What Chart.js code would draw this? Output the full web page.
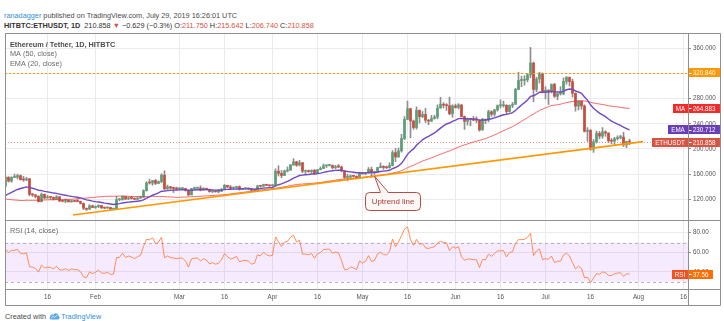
<!DOCTYPE html>
<html>
<head>
<meta charset="utf-8">
<script src="https://cdn.jsdelivr.net/npm/chart.js@4.4.1/dist/chart.umd.min.js"></script>
<style>
html, body { margin: 0; padding: 0; background: #fff; }
body { width: 724px; height: 321px; position: relative; overflow: hidden; font-family: "Liberation Sans", Arial, sans-serif; color: #4a4a4a; }
.t { position: absolute; white-space: nowrap; line-height: 1; }
#h1 { left: 4px; top: 12px; font-size: 7.3px; }
#h2 { left: 4px; top: 21.6px; font-size: 7.3px; color: #333; }
#ft { left: 5px; top: 312.3px; font-size: 7.3px; }
.red { color: #d75442; }
.blue { color: #2f8fdd; }
#cv { position: absolute; left: 5px; top: 33px; }
</style>
</head>
<body>
<div class="t" id="h1"><span class="blue">ranadagger</span> published on TradingView.com, July 29, 2019 16:26:01 UTC</div>
<div class="t" id="h2"><b>HITBTC:ETHUSDT, 1D</b>&nbsp; 210.858 <span class="red">▼</span> −0.629 (−0.3%) O:<span class="red">211.750</span> H:<span class="red">215.642</span> L:<span class="red">206.740</span> C:<span class="red">210.858</span></div>
<canvas id="cv" width="716" height="273"></canvas>
<div class="t" id="ft">Created with <svg width="11" height="8" viewBox="0 0 22 16" style="vertical-align:-1px;margin:0 1px 0 1px"><path d="M5 15 C1 15 0 11 2.5 9.5 C2 5 7 4 8.5 6 C10 1 18 1 18.5 7 C22 7.5 22 15 18 15 Z" fill="#5aa9e6"/><path d="M4.5 12 L8.5 8.5 L11.5 11 L17 5.5" stroke="#fff" stroke-width="1.6" fill="none"/></svg><span class="blue">TradingView</span></div>

<script>
// closes before the first visible bar (13 Nov 2018 - 1 Jan 2019), only used to warm up MA / EMA / RSI
const priorCloses = [206.5, 181.4, 180.8, 174.4, 174.8, 177.2, 149.1, 130.3, 136.7, 126.4, 123.3, 113.2, 116.7, 109.3, 110.1, 122.4, 118.3, 113.2,
  118.8, 116.2, 108.1, 110.3, 104.3, 91.0, 93.1, 91.6, 92.9, 90.0, 88.2, 90.1, 86.0, 83.8, 84.2, 85.3, 101.2, 100.7, 100.4, 116.1, 109.9, 117.1, 128.8, 139.8, 129.1, 131.0, 116.3, 137.7, 134.0, 140.0, 133.4,
  140.8];

// daily bars, 2 Jan - 29 Jul 2019
const closes = [
  155.0, 149.0, 154.7, 155.1, 157.6, 151.1, 150.8, 152.5, 127.9, 127.1, 124.6, 116.3, 127.9, 122.2, 123.4, 123.0, 120.0, 124.0, 117.5, 117.0, 118.7, 116.0, 117.7, 116.6, 116.5, 113.6, 105.8, 104.2, 109.6, 107.0,
  108.3, 110.2, 106.5, 106.1, 106.9, 104.4, 104.6, 119.4, 119.6, 124.5, 120.6, 122.3, 121.5, 120.1, 121.9, 123.3, 133.8, 146.1, 145.9, 149.8, 145.3, 148.2, 158.3, 136.6, 139.9, 137.7, 137.3, 136.5,
  137.0, 137.3, 134.1, 127.1, 136.9, 137.6, 138.0, 134.7, 137.4, 136.0, 132.2, 133.5, 131.9, 132.7, 135.8, 142.2, 139.6, 137.6, 138.7, 140.2, 135.9, 136.8, 137.2, 136.5, 134.4, 135.0, 141.3, 140.7, 143.7, 142.3, 141.5,
  142.0, 164.7, 161.2, 157.8, 165.0, 166.4, 174.5, 179.6, 174.3, 178.2, 164.7, 164.9, 164.1, 166.0, 161.2, 167.1, 168.9, 173.3, 173.6, 173.7, 170.4, 171.9, 171.3, 164.9, 154.9, 155.2, 157.4, 156.5, 154.4, 162.2,
  160.5, 161.8, 167.6, 162.4, 163.3, 170.4, 172.4, 170.5, 170.2, 173.7, 194.2, 187.3, 197.0, 216.5, 247.1, 264.0, 244.4, 234.0, 261.4, 251.4, 254.8, 245.8, 244.3, 248.4, 250.6, 265.1, 271.1, 269.5, 268.8, 255.9, 268.4,
  265.9, 270.0, 251.5, 243.9, 247.0, 246.9, 245.7, 245.6, 230.3, 246.7, 245.8, 259.2, 255.2, 262.0, 268.8, 268.8, 269.4, 259.5, 269.4, 271.1, 294.7, 308.8, 309.0, 310.0, 317.9, 336.6, 294.6, 311.3, 319.3, 290.3,
  293.6, 291.6, 302.5, 283.7, 287.9, 287.9, 307.4, 313.8, 307.0, 288.5, 268.0, 275.8, 268.3, 228.0, 229.5, 199.6, 211.2, 224.8, 220.5, 227.1, 225.1, 212.9, 212.4, 216.3, 218.2, 218.8, 206.4, 211.75, 210.858
];
const highs = [
  156.9, 155.9, 156.0, 160.1, 159.9, 158.8, 156.5, 154.9, 153.4, 129.0, 127.5, 126.0, 130.0, 128.5, 126.3, 124.3, 123.7, 126.0, 124.6, 118.5, 120.7, 119.0, 118.5, 118.3, 120.0, 117.0, 114.0, 106.0, 111.4, 110.8,
  109.6, 111.3, 110.4, 107.0, 108.0, 107.6, 105.0, 124.6, 121.0, 125.2, 124.5, 123.8, 124.8, 122.4, 124.0, 125.0, 135.2, 148.0, 152.0, 150.0, 151.6, 149.4, 160.7, 165.3, 142.6, 140.5, 139.2, 139.2,
  138.7, 138.0, 137.4, 134.5, 137.3, 139.6, 139.2, 141.5, 138.5, 137.5, 136.2, 134.6, 133.8, 135.5, 137.3, 143.5, 142.3, 142.0, 139.8, 140.7, 141.3, 137.5, 138.3, 137.6, 137.0, 135.7, 141.9, 141.4, 144.1, 143.9, 142.5,
  143.6, 168.4, 173.3, 165.8, 166.5, 171.6, 175.6, 184.6, 180.5, 182.0, 178.6, 166.1, 166.5, 166.9, 167.6, 167.6, 171.5, 176.2, 174.5, 175.6, 174.6, 174.0, 175.5, 173.0, 165.5, 159.9, 158.5, 158.2, 157.5, 162.9,
  162.8, 162.9, 170.5, 171.3, 164.1, 170.9, 177.8, 173.4, 172.8, 178.1, 197.5, 200.8, 201.7, 223.4, 251.5, 276.1, 264.9, 246.0, 267.0, 261.9, 259.4, 264.6, 246.8, 253.4, 253.7, 270.2, 282.2, 273.7, 272.0, 282.3, 270.4,
  271.3, 272.0, 270.6, 252.4, 249.0, 248.0, 251.7, 251.0, 246.2, 248.8, 247.4, 261.6, 260.8, 263.0, 270.0, 278.0, 276.0, 270.5, 270.0, 274.0, 296.5, 322.0, 315.6, 316.5, 320.0, 361.4, 338.0, 314.0, 322.0, 321.0,
  299.0, 293.8, 303.5, 304.3, 290.0, 299.0, 313.0, 315.0, 314.5, 311.0, 289.0, 277.0, 276.0, 270.0, 234.0, 231.0, 215.0, 228.7, 228.0, 234.0, 229.0, 226.0, 216.5, 218.5, 221.0, 222.0, 226.5, 212.4, 215.642
];
const lows = [
  140.7, 147.3, 147.0, 154.3, 152.4, 150.6, 148.5, 149.6, 125.4, 124.5, 122.2, 115.7, 115.8, 120.8, 121.6, 119.6, 119.0, 119.8, 116.0, 115.7, 114.5, 115.6, 115.2, 115.8, 116.0, 112.5, 103.5, 102.2, 104.0, 106.6,
  105.6, 106.8, 105.3, 104.7, 105.5, 103.4, 103.4, 104.0, 117.6, 118.4, 119.4, 119.7, 120.3, 119.3, 119.6, 121.4, 122.9, 133.0, 144.0, 142.2, 143.4, 144.6, 146.4, 135.4, 135.8, 136.0, 130.7, 135.6,
  135.8, 135.4, 133.0, 125.8, 126.9, 135.4, 136.6, 133.3, 134.6, 134.6, 131.2, 130.4, 131.4, 130.2, 132.5, 135.5, 138.4, 136.4, 137.4, 137.9, 134.6, 135.7, 136.5, 135.6, 131.9, 133.3, 134.9, 139.4, 140.6, 141.7, 140.6,
  140.9, 141.2, 156.9, 154.3, 157.7, 163.4, 165.8, 174.1, 172.3, 172.9, 162.5, 160.8, 162.9, 162.1, 159.6, 161.0, 166.6, 168.7, 170.5, 172.8, 168.2, 168.4, 170.2, 163.6, 153.0, 149.2, 154.0, 155.1, 152.5, 154.0,
  159.8, 159.3, 161.6, 154.6, 159.7, 162.0, 170.0, 167.5, 168.8, 169.4, 173.0, 180.0, 186.7, 194.9, 214.9, 246.7, 217.7, 231.2, 231.5, 241.4, 249.8, 242.0, 238.4, 243.5, 247.4, 247.8, 264.9, 265.2, 261.2, 254.3, 250.4,
  265.0, 263.6, 251.0, 231.0, 238.0, 236.7, 244.8, 241.8, 228.1, 229.7, 240.2, 243.0, 251.7, 252.0, 260.0, 265.0, 266.5, 256.0, 258.6, 265.6, 270.6, 294.0, 298.9, 301.5, 306.6, 313.2, 275.0, 291.0, 304.8, 289.3,
  279.5, 270.6, 288.9, 281.9, 278.0, 285.6, 286.0, 303.0, 300.0, 282.5, 260.0, 262.0, 263.0, 227.0, 212.0, 198.0, 194.6, 209.3, 216.0, 217.0, 220.0, 210.0, 208.0, 206.0, 214.0, 216.0, 204.0, 202.0, 206.74
];
const firstDay = 1; // day number counted from 1 Jan 2019

const tickDays = [15, 31, 59, 74, 90, 105, 120, 135, 151, 166, 181, 196, 212, 227];
const tickNames = ['16', 'Feb', 'Mar', '16', 'Apr', '16', 'May', '16', 'Jun', '16', 'Jul', '16', 'Aug', '16'];
const priceTicks = [120, 160, 200, 240, 280, 320, 360];
const rsiTicks = [40, 60, 80];

// drawings on the chart
const levelPrice = 320.84;
const trendDays = [23.5, 213.5];
const trendPrices = [95.0, 211.6];
const calloutDay = 124;
const calloutBoxDay = 129.9;
const calloutBoxPrice = 117.5;
const rsiUpper = 70, rsiLower = 30;

// values shown in the axis badges
const maLast = 264.883, emaLast = 230.712, rsiLast = 37.56;

const FONT = '"Liberation Sans", Arial, sans-serif';
Chart.defaults.font.family = FONT;

const days = closes.map((c, i) => firstDay + i);
const opens = closes.map((c, i) => i ? closes[i - 1] : priorCloses[priorCloses.length - 1]);
const lastClose = closes[closes.length - 1];

const all = priorCloses.concat(closes);
const off = priorCloses.length;

function sma(n) {
    return closes.map((c, i) => {
        let s = 0;
        for (let k = 0; k < n; k++) s += all[off + i - k];
        return s / n;
    });
}
function ema(n) {
    const a = 2 / (n + 1);
    let e = all.slice(0, n).reduce((p, c) => p + c, 0) / n;
    const out = [];
    for (let j = n; j < all.length; j++) {
        e = a * all[j] + (1 - a) * e;
        if (j >= off) out.push(e);
    }
    return out;
}
function rsi(n) {
    let g = 0, l = 0;
    for (let j = 1; j <= n; j++) {
        const d = all[j] - all[j - 1];
        if (d > 0) g += d; else l -= d;
    }
    g /= n; l /= n;
    const out = [];
    for (let j = n + 1; j < all.length; j++) {
        const d = all[j] - all[j - 1];
        g = (g * (n - 1) + Math.max(d, 0)) / n;
        l = (l * (n - 1) + Math.max(-d, 0)) / n;
        if (j >= off) out.push(100 - 100 / (1 + g / l));
    }
    return out;
}

const ma50 = sma(50);
const ema20 = ema(20);
const rsi14 = rsi(14);

function trendAt(d) {
    const t = (d - trendDays[0]) / (trendDays[1] - trendDays[0]);
    return trendPrices[0] + t * (trendPrices[1] - trendPrices[0]);
}

const up = closes.map((c, i) => c >= opens[i]);

const overlay = {
    id: 'overlay',
    beforeDatasetsDraw(chart) {
        const { ctx, chartArea: a, scales: { y, rsi: r } } = chart;
        ctx.save();
        const y70 = r.getPixelForValue(rsiUpper), y30 = r.getPixelForValue(rsiLower);
        ctx.fillStyle = 'rgba(153,21,255,0.09)';
        ctx.fillRect(a.left, y70, a.right - a.left, y30 - y70);
        ctx.strokeStyle = '#b7b0c0';
        ctx.lineWidth = 1;
        ctx.setLineDash([3, 3]);
        [y70, y30].forEach(v => {
            ctx.beginPath();
            ctx.moveTo(a.left, Math.round(v) + 0.5);
            ctx.lineTo(a.right, Math.round(v) + 0.5);
            ctx.stroke();
        });
        // last price line
        const yl = Math.round(y.getPixelForValue(lastClose)) + 0.5;
        ctx.strokeStyle = 'rgba(215,84,66,0.6)';
        ctx.setLineDash([1, 2]);
        ctx.beginPath();
        ctx.moveTo(a.left, yl);
        ctx.lineTo(a.right, yl);
        ctx.stroke();
        ctx.restore();
    },
    afterDatasetsDraw(chart) {
        const { ctx, chartArea: a, scales: { x, y } } = chart;
        ctx.save();
        // horizontal level
        const yl = Math.round(y.getPixelForValue(levelPrice)) + 0.5;
        ctx.strokeStyle = '#ff9800';
        ctx.lineWidth = 1;
        ctx.setLineDash([2, 2]);
        ctx.beginPath();
        ctx.moveTo(a.left, yl);
        ctx.lineTo(a.right, yl);
        ctx.stroke();
        ctx.setLineDash([]);

        // "Uptrend line" callout
        const tipX = x.getPixelForValue(calloutDay), tipY = y.getPixelForValue(trendAt(calloutDay));
        const cx = x.getPixelForValue(calloutBoxDay), cy = y.getPixelForValue(calloutBoxPrice);
        ctx.font = '7.9px ' + FONT;
        const tw = ctx.measureText('Uptrend line').width;
        const w = Math.round(tw + 12), h = 18;
        const left = Math.round(cx - w / 2) + 0.5, top = Math.round(cy - h / 2) + 0.5;
        ctx.beginPath();
        ctx.roundRect(left, top, w, h, 4);
        ctx.fillStyle = '#fff6f6';
        ctx.fill();
        ctx.strokeStyle = '#b34e4a';
        ctx.stroke();
        const b1 = left + 15, b2 = left + 23;
        ctx.beginPath();
        ctx.moveTo(b1, top + 1);
        ctx.lineTo(tipX, tipY);
        ctx.lineTo(b2, top + 1);
        ctx.closePath();
        ctx.fillStyle = '#fff6f6';
        ctx.fill();
        ctx.beginPath();
        ctx.moveTo(b1, top);
        ctx.lineTo(tipX, tipY);
        ctx.lineTo(b2, top);
        ctx.stroke();
        ctx.fillStyle = '#a83f3b';
        ctx.textAlign = 'center';
        ctx.textBaseline = 'middle';
        ctx.fillText('Uptrend line', left + w / 2, top + h / 2 + 0.5);
        ctx.restore();
    },
    afterDraw(chart) {
        const { ctx, chartArea: a, scales: { y, rsi: r } } = chart;
        const W = chart.width, H = chart.height;
        ctx.save();
        ctx.strokeStyle = '#8f8f8f';
        ctx.lineWidth = 1;
        const R = Math.round(a.right) + 0.5;
        const S = Math.round(r.top) + 0.5;
        const B = Math.round(a.bottom) + 0.5;
        ctx.beginPath();
        ctx.rect(0.5, 0.5, W - 1, H - 1);
        ctx.moveTo(R, 0); ctx.lineTo(R, H);
        ctx.moveTo(0, S); ctx.lineTo(W, S);
        ctx.moveTo(0, B); ctx.lineTo(W, B);
        ctx.stroke();

        // axis badges
        const labelX = a.right + 4.7;
        function badge(scale, value, text, name, color, nameColor) {
            const hgt = 9;
            const yp = scale.getPixelForValue(value);
            const top = Math.round(yp - hgt / 2);
            ctx.font = '6.3px ' + FONT;
            ctx.textBaseline = 'middle';
            const vw = ctx.measureText(text).width;
            ctx.fillStyle = color;
            ctx.fillRect(a.right + 1, top, labelX + vw + 4.5 - a.right - 1, hgt);
            if (name) {
                const nw = Math.round(ctx.measureText(name).width + 6);
                ctx.fillStyle = nameColor || color;
                ctx.fillRect(a.right - nw, top, nw, hgt);
                ctx.fillStyle = '#fff';
                ctx.textAlign = 'center';
                ctx.fillText(name, a.right - nw / 2, top + hgt / 2 + 0.5);
            }
            ctx.strokeStyle = '#fff';
            ctx.beginPath();
            ctx.moveTo(a.right + 1, Math.round(yp) + 0.5);
            ctx.lineTo(a.right + 3.5, Math.round(yp) + 0.5);
            ctx.stroke();
            ctx.fillStyle = '#fff';
            ctx.textAlign = 'left';
            ctx.fillText(text, labelX, top + hgt / 2 + 0.5);
        }
        badge(y, levelPrice, levelPrice.toFixed(3), null, '#ff9800');
        badge(y, maLast, maLast.toFixed(3), 'MA', '#f42a2a');
        badge(y, emaLast, emaLast.toFixed(3), 'EMA', '#6a3db8');
        badge(y, lastClose, lastClose.toFixed(3), 'ETHUSDT', '#d75442');
        badge(r, rsiLast, rsiLast.toFixed(2), 'RSI', '#ff6d00', '#f4511e');

        // pane legends
        ctx.textAlign = 'left';
        ctx.textBaseline = 'middle';
        ctx.font = 'bold 7.3px ' + FONT;
        ctx.fillStyle = '#4c4c4c';
        ctx.fillText('Ethereum / Tether, 1D, HITBTC', 5, 12);
        ctx.font = '7.3px ' + FONT;
        ctx.fillStyle = '#6a6a6a';
        ctx.fillText('MA (50, close)', 5, 21.3);
        ctx.fillText('EMA (20, close)', 5, 30.7);
        ctx.fillText('RSI (14, close)', 5, r.top + 11);
        ctx.restore();
    }
};

const noPad = s => { s.paddingTop = 0; s.paddingBottom = 0; s.paddingLeft = 0; s.paddingRight = 0; };

new Chart(document.getElementById('cv'), {
    type: 'bar',
    data: {
        datasets: [
            {
                type: 'line',
                data: trendDays.map((d, i) => ({ x: d, y: trendPrices[i] })),
                borderColor: '#ff9800',
                borderWidth: 1.7,
                pointRadius: 0,
                yAxisID: 'y',
                order: 0
            },
            {
                type: 'line',
                data: days.map((d, i) => ({ x: d, y: ema20[i] })),
                borderColor: '#7048c4',
                borderWidth: 1.4,
                pointRadius: 0,
                yAxisID: 'y',
                order: 1
            },
            {
                type: 'line',
                data: days.map((d, i) => ({ x: d, y: ma50[i] })),
                borderColor: 'rgba(250,40,40,0.7)',
                borderWidth: 1,
                pointRadius: 0,
                yAxisID: 'y',
                order: 2
            },
            {
                data: days.map((d, i) => ({ x: d, y: [opens[i], closes[i]] })),
                backgroundColor: up.map(u => u ? '#5b9d77' : '#cc4b3d'),
                borderWidth: 0,
                barThickness: 2,
                minBarLength: 1,
                grouped: false,
                yAxisID: 'y',
                order: 3
            },
            {
                data: days.map((d, i) => ({ x: d, y: [lows[i], highs[i]] })),
                backgroundColor: '#8e8e90',
                borderWidth: 0,
                barThickness: 1,
                grouped: false,
                yAxisID: 'y',
                order: 4
            },
            {
                type: 'line',
                data: days.map((d, i) => ({ x: d, y: rsi14[i] })),
                borderColor: 'rgba(255,125,55,0.85)',
                borderWidth: 1,
                pointRadius: 0,
                yAxisID: 'rsi',
                order: 0
            }
        ]
    },
    options: {
        responsive: false,
        animation: false,
        events: [],
        layout: { padding: 0 },
        plugins: { legend: { display: false }, tooltip: { enabled: false } },
        scales: {
            x: {
                type: 'linear',
                min: 0.8333,
                max: 228.5,
                offset: false,
                afterBuildTicks: s => { s.ticks = tickDays.map(v => ({ value: v })); },
                afterFit: s => { s.height = 17; noPad(s); },
                ticks: {
                    autoSkip: false,
                    maxRotation: 0,
                    padding: 4,
                    color: '#555',
                    font: { size: 6.3 },
                    callback: (v, i) => tickNames[i]
                },
                grid: { color: '#ebebeb', drawTicks: false, offset: false },
                border: { display: false }
            },
            y: {
                type: 'linear',
                position: 'right',
                stack: 'panes',
                stackWeight: 187,
                min: 87.1,
                max: 384.3,
                afterBuildTicks: s => { s.ticks = priceTicks.map(v => ({ value: v })); },
                afterFit: s => { s.width = 33; noPad(s); },
                ticks: { padding: 2, color: '#555', font: { size: 6.3 }, callback: v => v.toFixed(3) },
                grid: { color: '#ebebeb', tickColor: '#8f8f8f', tickLength: 3 },
                border: { display: false }
            },
            rsi: {
                type: 'linear',
                axis: 'y',
                position: 'right',
                stack: 'panes',
                stackWeight: 69,
                min: 22.55,
                max: 93.0,
                afterBuildTicks: s => { s.ticks = rsiTicks.map(v => ({ value: v })); },
                afterFit: s => { s.width = 33; noPad(s); },
                ticks: { padding: 2, color: '#555', font: { size: 6.3 }, callback: v => v.toFixed(2) },
                grid: { color: '#ebebeb', tickColor: '#8f8f8f', tickLength: 3 },
                border: { display: false }
            }
        }
    },
    plugins: [overlay]
});
</script>
</body>
</html>
